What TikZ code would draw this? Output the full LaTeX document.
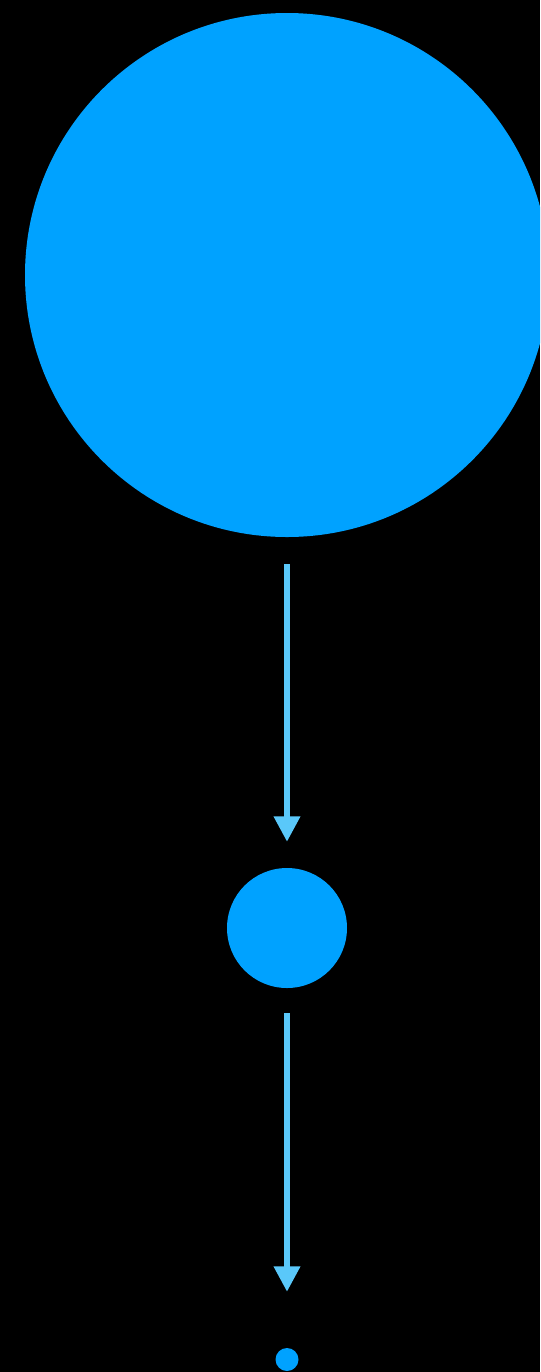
\documentclass[tikz,border=0pt]{standalone}
\usetikzlibrary{arrows.meta}
\definecolor{circ}{HTML}{00A2FF}
\definecolor{arr}{HTML}{5AC8FA}
\begin{document}
\begin{tikzpicture}[x=0.75pt,y=-0.75pt,
  ball/.style={circle,fill=circ,draw=none,inner sep=0pt},
  flow/.style={draw=arr,line width=4.2pt,-{Triangle[width=19pt,length=19pt]}}]
\useasboundingbox (0,0) rectangle (540,1372);
\fill[black] (0,0) rectangle (540,1372);
\clip (0,0) rectangle (540,1372);
\node[ball,minimum size=393pt] (big) at (287,275) {};
\node[ball,minimum size=90pt] (mid) at (287,928) {};
\node[ball,minimum size=17.25pt] (small) at (287,1359.5) {};
\draw[flow,shorten <=20.25pt,shorten >=19.5pt] (big.south) -- (mid.north);
\draw[flow,shorten <=18.75pt,shorten >=42pt] (mid.south) -- (small.north);
\end{tikzpicture}
\end{document}
